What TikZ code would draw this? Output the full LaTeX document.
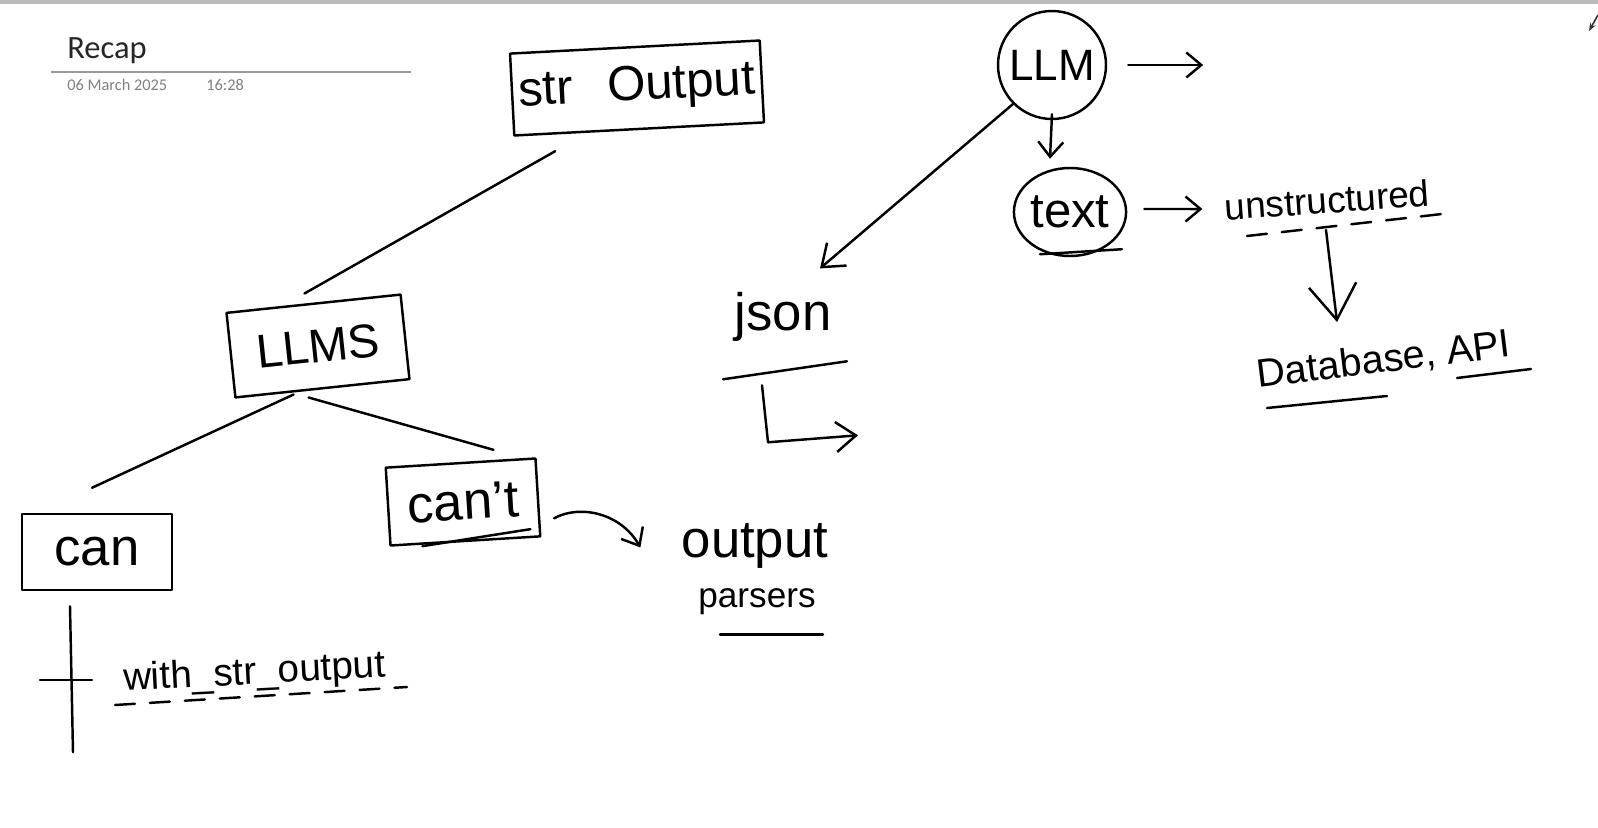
\documentclass[tikz,border=0pt]{standalone}
\usepackage{fontspec}
\setmainfont{Liberation Sans}
\newfontfamily\notefont{Carlito}
\usetikzlibrary{arrows.meta,calc,positioning,shapes.geometric}

\begin{document}
\begin{tikzpicture}[x=0.2mm, y=-0.2mm,
    ink/.style={line width=1.4pt, line cap=round, line join=round},
    hand/.style={font=\fontsize{#1}{#1}\selectfont, inner sep=0pt},
    hand/.default=28,
    box/.style={draw, ink, inner sep=0pt},
    dashline/.style={ink, dash pattern=on 4mm off 3mm},
    datefont/.style={font=\notefont\fontsize{9.3}{9.3}\selectfont, text=black!50, inner sep=0pt},
    >={Straight Barb[length=3mm, width=5mm]}]
    \useasboundingbox (0,0) rectangle (1598,828);
    \fill[white] (0,0) rectangle (1598,828);
    \fill[black!27] (0,0) rectangle (1598,4);
    \draw[-{Stealth[length=1.6mm]}, line width=0.9pt, black!80] (1598,15) -- (1589,31);

    % Kopfzeile der Seite
    \node[font=\notefont\fontsize{18.5}{18.5}\selectfont, text=black!85, anchor=base west, inner sep=0pt] (title) at (67,58) {Recap};
    \draw[black!40, line width=0.7pt] ($(title.base west)+(-16,14)$) -- +(360,0);
    \node[datefont, anchor=base west] (date) at (67,90) {06 March 2025};
    \node[datefont, anchor=base west] (time) at (206,90) {16:28};

    % Baum links
    \node[box, hand=28, rotate=3, minimum width=50mm, minimum height=16.4mm] (strbox) at (637,88) {str\hspace{0.7em}Output};
    \node[box, hand=27, rotate=6, minimum width=35mm, minimum height=17mm] (llms) at (318,346) {LLMS};
    \node[box, hand=30, minimum width=30mm, minimum height=15.2mm] (canbox) at (97,552) {can\hspace{0.4em}};
    \node[box, hand=30, rotate=3.5, minimum width=30mm, minimum height=15.6mm] (cantbox) at (463,502) {can't};
    \draw[ink] ($(strbox.south)+(-84,21)$) -- ($(llms.north)+(-9,-9)$);
    \draw[ink] ($(llms.south)+(-29,5)$) -- ($(canbox.north)+(-5,-25)$);
    \draw[ink] ($(llms.south)+(-14,8)$) -- ($(cantbox.north)+(33,-12)$);
    \draw[ink] ($(cantbox.south)+(-43,4)$) -- ($(cantbox.south)+(65,-13)$);

    % can -> with_str_output
    \node[hand=22, rotate=3, anchor=base] (withstr) at (255,684) {with\_str\_output};
    \draw[ink] ($(canbox.south)+(-27,15)$) -- ++(3,146) coordinate (canend);
    \draw[ink] ($(canbox.south)+(-57,89)$) -- ++(52,0);
    \draw[dashline] ($(withstr.base)+(-140,21)$) -- ($(withstr.base)+(152,3)$);

    % can't -> output parsers
    \node[hand=30, anchor=base] (outp) at (755,557) {output};
    \node[hand=20, anchor=base] (parsers) at (757,607) {parsers};
    \draw[ink, ->] ($(cantbox.east)+(15,21)$) .. controls +(25,-14) and +(-20,-35) .. ($(outp.west)+(-41,2)$);
    \draw[ink] ($(parsers.south)+(-37,20)$) -- ($(parsers.south)+(66,20)$);

    % LLM rechts
    \node[circle, box, hand=25, minimum size=21.6mm] (llm) at (1052,65) {LLM};
    \node[ellipse, box, hand=28, minimum width=22mm, minimum height=17.6mm] (txt) at (1070,212) {text};
    \node[hand=30, anchor=base] (json) at (783,330) {json};
    \node[hand=21, rotate=4, anchor=base] (unstr) at (1328,213) {unstructured};
    \node[hand=22.5, rotate=7, anchor=base] (db) at (1385,372) {Database, API};

    \draw[ink, ->] ($(llm.east)+(21,0)$) -- ++(75,0);
    \draw[ink, ->] ($(llm.south)+(0,-6)$) -- ($(txt.north)+(-20,-8)$);
    \draw[ink, ->, >={Straight Barb[length=4mm, width=6mm]}] (llm.-135) -- ($(json.north)+(37,-23)$);
    \draw[ink] ($(txt.south)+(-30,-3)$) -- ($(txt.south)+(52,-8)$);

    % json
    \draw[ink] ($(json.south)+(-60,38)$) -- ($(json.south)+(64,20)$);
    \draw[ink, ->, >={Straight Barb[length=4mm, width=6mm]}] ($(json.south)+(-21,44)$) -- ++(6,57) -- ++(90,-7);

    % text -> unstructured -> Database, API
    \draw[ink, ->] ($(txt.east)+(17,-3)$) -- ($(unstr.west)+(-22,2)$);
    \draw[dashline] ($(unstr.base)+(-81,23)$) -- ($(unstr.base)+(114,1)$);
    \draw[ink, ->, >={Straight Barb[length=7mm, width=9.5mm]}] ($(unstr.base)+(-2,17)$) -- ($(db.base)+(-48,-50)$);
    \draw[ink] ($(db.base)+(-118,36)$) -- ($(db.base)+(2,24)$);
    \draw[ink] ($(db.base)+(72,6)$) -- ($(db.base)+(146,-3)$);
\end{tikzpicture}
\end{document}
